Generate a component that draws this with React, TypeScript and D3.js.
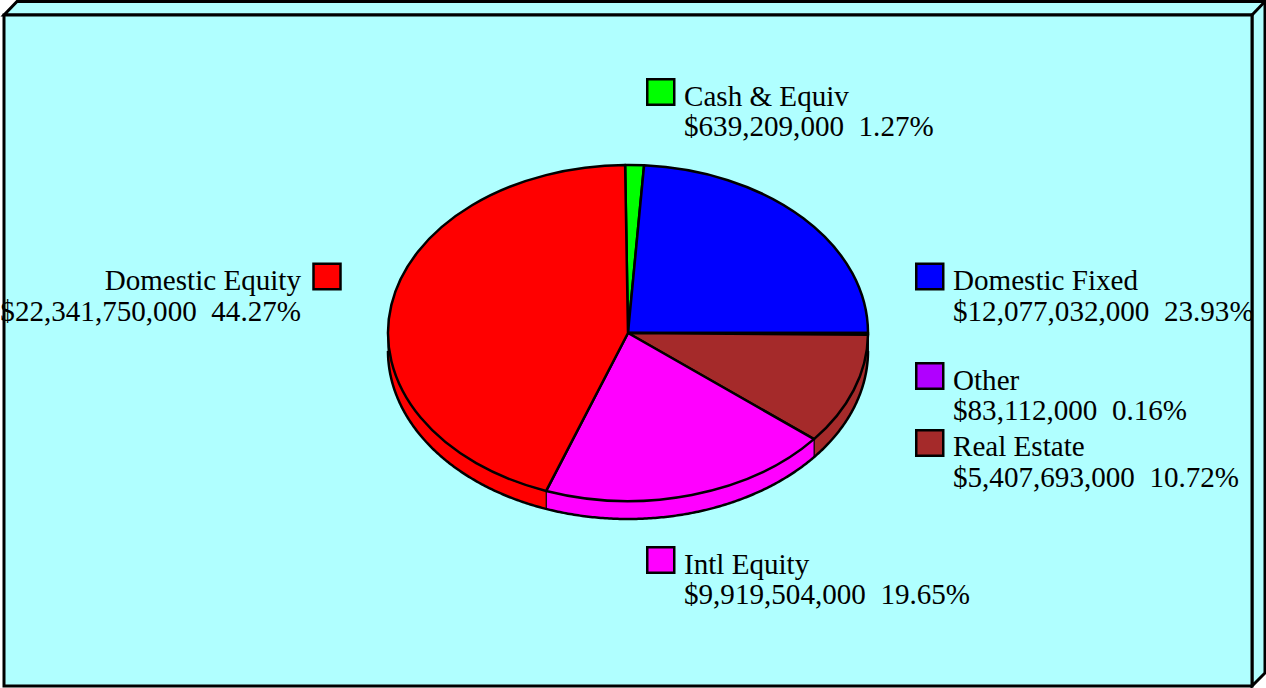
import * as d3 from "d3";

const categories = ["Cash & Equiv", "Domestic Fixed", "Other", "Real Estate", "Intl Equity", "Domestic Equity"];
const amounts = [639209000, 12077032000, 83112000, 5407693000, 9919504000, 22341750000];
const amountLabels = ["$639,209,000", "$12,077,032,000", "$83,112,000", "$5,407,693,000", "$9,919,504,000", "$22,341,750,000"];
const percentLabels = ["1.27%", "23.93%", "0.16%", "10.72%", "19.65%", "44.27%"];
const colors = ["#00ff00", "#0000ff", "#b000ff", "#a52a2a", "#ff00ff", "#ff0000"];

// legend layout per slice: swatch corner, text x, the two text baselines
const legendX = [647.25, 916.25, 916.25, 916.25, 647.25, 313.5];
const legendY = [79.25, 263.75, 363.25, 430.25, 547.25, 263.75];
const textX = [684, 953, 953, 953, 684, 301];
const labelY = [106, 290, 390, 456, 574, 290];
const valueY = [136, 321, 420, 487, 604, 321];
const textEnd = [false, false, false, false, false, true];

const width = 1266;
const height = 688;
const cx = 628;
const cy = 333;
const rx = 240;
const ry = 168;
const depth = 18;
const boxW = 27;
const boxH = 25.5;

const deg = Math.PI / 180;
const startAngle = -0.7 * deg;

const pie = d3
  .pie<number>()
  .sort(null)
  .startAngle(startAngle)
  .endAngle(startAngle + 2 * Math.PI);
const slices = pie(amounts);

// unit arc, stretched to an ellipse by the group transform
const arc = d3.arc<d3.PieArcDatum<number>>().innerRadius(0).outerRadius(1);

const rim = d3
  .line<number>()
  .x((a) => cx + rx * Math.sin(a))
  .y((a) => cy - ry * Math.cos(a) + depth);

// the visible front part of the rim runs from 3 o'clock to 9 o'clock
const rimAngles = (a0: number, a1: number) => {
  const from = Math.max(a0, Math.PI / 2);
  const to = Math.min(a1, (3 * Math.PI) / 2);
  if (to <= from) return [];
  const n = Math.max(2, Math.ceil((to - from) / (0.5 * deg)));
  return d3.range(n + 1).map((i) => from + ((to - from) * i) / n);
};

const wallPath = (a0: number, a1: number) => {
  const pts = rimAngles(a0, a1);
  if (!pts.length) return "";
  const top = pts
    .slice()
    .reverse()
    .map((a) => `L${cx + rx * Math.sin(a)},${cy - ry * Math.cos(a)}`)
    .join("");
  return `${rim(pts)}${top}Z`;
};

const App = () => {
  const fx = 4;
  const fy = 15;
  const fr = 1252;
  const fb = 686;
  const off = 13;
  return (
    <svg
      width={width}
      height={height}
      style={{ position: "absolute", left: 0, top: 0, display: "block" }}
      fontFamily="'Liberation Serif', serif"
      fontSize={29.1}
    >
      <rect width={width} height={height} fill="#ffffff" />
      <g stroke="#000" strokeWidth={3} fill="#b0ffff">
        <path d={`M${fx},${fy}L${fx + off},${fy - off - 0.5}H${fr + off}V${fb - off}L${fr},${fb}V${fy}Z`} />
        <rect x={fx} y={fy} width={fr - fx} height={fb - fy} />
        <path d={`M${fr},${fy}L${fr + off},${fy - off - 0.5}`} fill="none" />
      </g>

      <g>
        {slices.map((s, i) => (
          <path key={i} d={wallPath(s.startAngle, s.endAngle)} fill={colors[i]} stroke="#000" strokeWidth={1} />
        ))}
        <path
          d={rim(rimAngles(0, 2 * Math.PI)) ?? ""}
          fill="none"
          stroke="#000"
          strokeWidth={2.5}
        />
      </g>

      <g transform={`translate(${cx},${cy}) scale(${rx},${ry})`}>
        {slices.map((s, i) => (
          <path
            key={i}
            d={arc(s) ?? ""}
            fill={colors[i]}
            stroke="#000"
            strokeWidth={2.5}
            strokeLinejoin="round"
            vectorEffect="non-scaling-stroke"
          />
        ))}
      </g>

      {categories.map((c, i) => {
        const anchor = textEnd[i] ? "end" : "start";
        return (
          <g key={c}>
            <rect x={legendX[i]} y={legendY[i]} width={boxW} height={boxH} fill={colors[i]} stroke="#000" strokeWidth={2.5} />
            <text x={textX[i]} y={labelY[i]} textAnchor={anchor} fill="#000">
              {c}
            </text>
            <text x={textX[i]} y={valueY[i]} textAnchor={anchor} fill="#000" style={{ whiteSpace: "pre" }}>
              {`${amountLabels[i]}  ${percentLabels[i]}`}
            </text>
          </g>
        );
      })}
    </svg>
  );
};

export default App;
